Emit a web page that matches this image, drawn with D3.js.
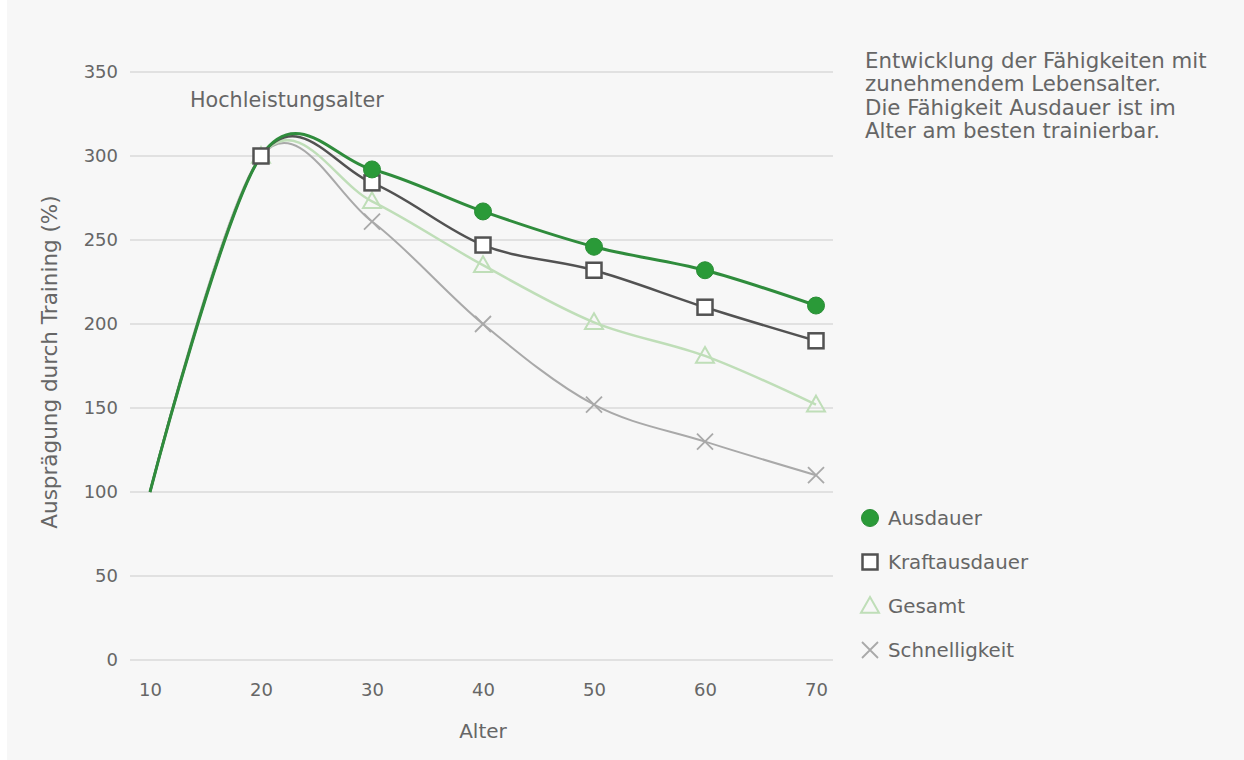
<!DOCTYPE html>
<html>
<head>
<meta charset="utf-8">
<script src="https://cdn.jsdelivr.net/npm/d3@7"></script>
<style>
  html, body { margin: 0; padding: 0; background: #ffffff; }
  svg { display: block; }
  text { font-family: "DejaVu Sans", "Noto Sans", sans-serif; }
</style>
</head>
<body>
<svg id="chart" width="1244" height="760"></svg>
<script>
// Ages on the x axis
const ages = [10, 20, 30, 40, 50, 60, 70];

// Trainability of each ability by age (%)
const ausdauer       = [100, 300, 292, 267, 246, 232, 211];
const kraftausdauer  = [100, 300, 284, 247, 232, 210, 190];
const gesamt         = [100, 300, 273, 235, 201, 181, 152];
const schnelligkeit  = [100, 300, 261, 200, 152, 130, 110];

const seriesNames = ["Ausdauer", "Kraftausdauer", "Gesamt", "Schnelligkeit"];
const yTicks = [0, 50, 100, 150, 200, 250, 300, 350];
const xTicks = [10, 20, 30, 40, 50, 60, 70];

const noteLines = [
  "Entwicklung der Fähigkeiten mit",
  "zunehmendem Lebensalter.",
  "Die Fähigkeit Ausdauer ist im",
  "Alter am besten trainierbar."
];

const textColor = "#666666";

const svg = d3.select("#chart");
svg.append("rect").attr("x", 7).attr("y", 0).attr("width", 1237).attr("height", 760).attr("fill", "#f7f7f7");

const x = d3.scaleLinear().domain([10, 70]).range([150, 816]);
const y = d3.scaleLinear().domain([0, 350]).range([660, 72]);

// Horizontal grid
svg.append("g").selectAll("line").data(yTicks).join("line")
  .attr("x1", 130).attr("x2", 833)
  .attr("y1", d => y(d)).attr("y2", d => y(d))
  .attr("stroke", "#e1e1e1").attr("stroke-width", 2);

// Y axis labels
const yAxis = d3.axisLeft(y).tickValues(yTicks).tickSize(0).tickPadding(0);
const gy = svg.append("g").attr("transform", "translate(118,0)").call(yAxis);
gy.select(".domain").remove();
gy.selectAll("text").attr("font-size", 18).attr("font-family", "DejaVu Sans").attr("fill", textColor);

// X axis labels
const xAxis = d3.axisBottom(x).tickValues(xTicks).tickSize(0).tickPadding(0);
const gx = svg.append("g").attr("transform", "translate(0,683)").call(xAxis);
gx.select(".domain").remove();
gx.selectAll("text").attr("y", 0).attr("font-size", 18).attr("font-family", "DejaVu Sans").attr("fill", textColor);

svg.append("text").attr("x", x(40)).attr("y", 738).attr("text-anchor", "middle")
  .attr("font-size", 20).attr("fill", textColor).text("Alter");

svg.append("text")
  .attr("transform", "translate(57,362) rotate(-90)")
  .attr("text-anchor", "middle").attr("font-size", 21.5).attr("fill", textColor)
  .text("Ausprägung durch Training (%)");

svg.append("text").attr("x", 190).attr("y", 107).attr("font-size", 20.7).attr("fill", textColor)
  .text("Hochleistungsalter");

svg.append("g").selectAll("text").data(noteLines).join("text")
  .attr("x", 865).attr("y", (d, i) => 68 + i * 23.3)
  .attr("font-size", 21.3).attr("fill", textColor).text(d => d);

const series = [
  { name: seriesNames[0], values: ausdauer,      color: "#2f8c3c", width: 3,   marker: "circle",   markFrom: 30 },
  { name: seriesNames[1], values: kraftausdauer, color: "#525252", width: 2.5, marker: "square",   markFrom: 20 },
  { name: seriesNames[2], values: gesamt,        color: "#bfdeb8", width: 2.5, marker: "triangle", markFrom: 20 },
  { name: seriesNames[3], values: schnelligkeit, color: "#a9a9a9", width: 2,   marker: "cross",    markFrom: 30 }
];

const line = d3.line().x(d => x(d[0])).y(d => y(d[1])).curve(d3.curveCatmullRom.alpha(0));

// Draw from back to front
const drawOrder = [3, 2, 1, 0];
drawOrder.forEach(i => {
  const s = series[i];
  const pts = ages.map((a, j) => [a, s.values[j]]);
  svg.append("path").datum(pts).attr("d", line)
    .attr("fill", "none").attr("stroke", s.color).attr("stroke-width", s.width)
    .attr("stroke-linejoin", "round");
});

function drawMarker(g, type, cx, cy) {
  if (type === "circle") {
    g.append("circle").attr("cx", cx).attr("cy", cy).attr("r", 8.5)
      .attr("fill", "#2a9a38").attr("stroke", "#2a8d36").attr("stroke-width", 1);
  } else if (type === "square") {
    const h = 7.5;
    g.append("rect").attr("x", cx - h).attr("y", cy - h).attr("width", 2 * h).attr("height", 2 * h)
      .attr("fill", "#ffffff").attr("stroke", "#525252").attr("stroke-width", 2.5);
  } else if (type === "triangle") {
    const s = 9;
    g.append("path")
      .attr("d", `M${cx},${cy - s} L${cx + s},${cy + s * 0.75} L${cx - s},${cy + s * 0.75} Z`)
      .attr("fill", "none").attr("stroke", "#bfdeb8").attr("stroke-width", 2);
  } else if (type === "cross") {
    const s = 8;
    g.append("path")
      .attr("d", `M${cx - s},${cy - s} L${cx + s},${cy + s} M${cx - s},${cy + s} L${cx + s},${cy - s}`)
      .attr("stroke", "#a9a9a9").attr("stroke-width", 1.8);
  }
}

// Markers on the measured ages
const markers = svg.append("g");
drawOrder.forEach(i => {
  const s = series[i];
  ages.forEach((a, j) => {
    if (a < s.markFrom) return;
    drawMarker(markers, s.marker, x(a), y(s.values[j]));
  });
});

// Legend
const legend = svg.append("g");
series.forEach((s, i) => {
  const ly = 518 + i * 44;
  drawMarker(legend, s.marker, 870, ly);
  legend.append("text").attr("x", 888).attr("y", ly + 7).attr("font-size", 19.8)
    .attr("fill", textColor).text(s.name);
});
</script>
</body>
</html>
